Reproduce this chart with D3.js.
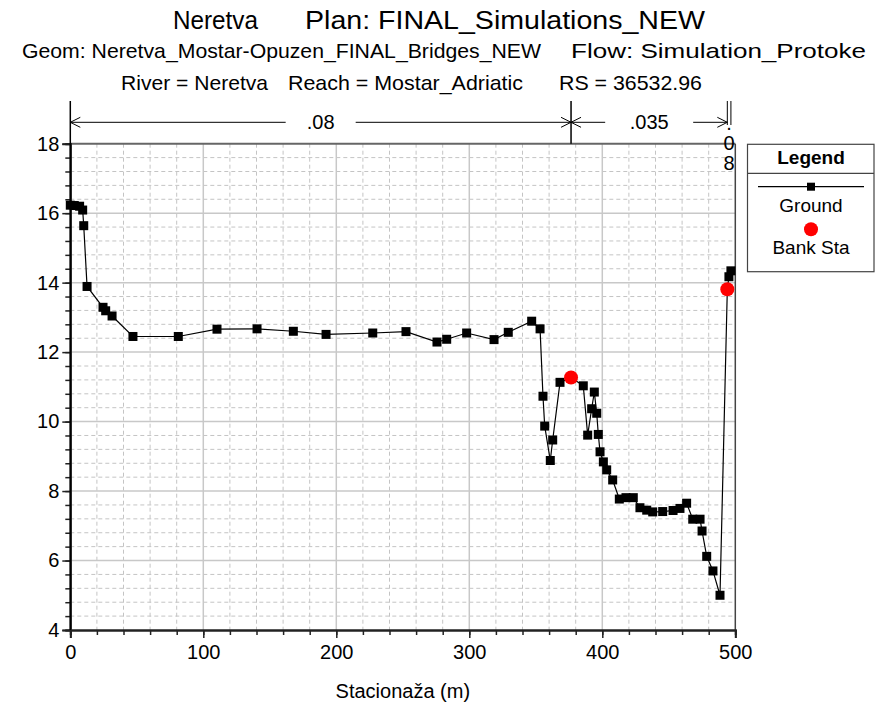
<!DOCTYPE html>
<html>
<head>
<meta charset="utf-8">
<script src="https://cdn.jsdelivr.net/npm/d3@7"></script>
<style>
body { margin: 0; background: #fff; }
text { font-family: "Liberation Sans", Arial, sans-serif; fill: #000; }
</style>
</head>
<body>
<div id="graph1"></div>
<script>
// ground profile (station m, elevation m)
var groundSta = [0, 3, 7, 9.3, 10.1, 12.6, 24.6, 26.6, 31.4, 47.1, 81.2, 110.3, 140.4, 167.7, 192.3, 227.4, 252.4, 275.7, 283, 298, 318.6, 329.3, 346.9, 353.2, 355.4, 356.7, 360.9, 362.7, 368.2, 376.5, 385.7, 389, 392, 394, 395.8, 397, 398.3, 400.8, 403.3, 407.8, 412.8, 417.8, 423.3, 428.3, 433.4, 437.9, 445.4, 453.2, 458.4, 463.4, 468, 473.5, 475, 478.5, 483.2, 488.5, 494, 495.2, 496.7];
var groundElev = [16.23, 16.22, 16.2, 16.09, 15.64, 13.89, 13.29, 13.19, 13.04, 12.45, 12.45, 12.66, 12.67, 12.6, 12.51, 12.55, 12.59, 12.29, 12.37, 12.55, 12.36, 12.57, 12.89, 12.67, 10.73, 9.87, 8.88, 9.47, 11.13, 11.27, 11.03, 9.61, 10.37, 10.85, 10.24, 9.63, 9.13, 8.84, 8.61, 8.32, 7.77, 7.81, 7.81, 7.52, 7.45, 7.4, 7.41, 7.44, 7.5, 7.65, 7.19, 7.19, 6.85, 6.12, 5.7, 5.0, 13.81, 14.17, 14.34];

// bank stations
var bankSta = [376.5, 494];
var bankElev = [11.27, 13.81];

// manning's n regions
var nStart = [0, 376.5, 494];
var nEnd = [376.5, 494, 496.7];
var nLabel = [".08", ".035", ".08"];

var xTicks = [0, 100, 200, 300, 400, 500];
var yTicks = [4, 6, 8, 10, 12, 14, 16, 18];

const width = 883;
const height = 709;
const plot = {left: 70.3, right: 735.3, top: 143.7, bottom: 630};

var svg = d3.select("#graph1")
	.append("svg")
	.attr("width", width)
	.attr("height", height);

var x = d3.scaleLinear().domain([0, 500]).range([plot.left, plot.right]);
var y = d3.scaleLinear().domain([4, 18]).range([plot.bottom, plot.top]);

// titles (narrow font in the original, so squeeze to the measured widths)
function titlePiece(txt, tx, ty, size, len) {
	svg.append("text")
		.attr("x", tx)
		.attr("y", ty)
		.attr("textLength", len)
		.attr("lengthAdjust", "spacingAndGlyphs")
		.style("font-size", size + "px")
		.text(txt);
}
titlePiece("Neretva", 173, 29, 25, 85);
titlePiece("Plan: FINAL_Simulations_NEW", 305, 29, 25, 400);
titlePiece("Geom: Neretva_Mostar-Opuzen_FINAL_Bridges_NEW", 22, 58, 21, 519);
titlePiece("Flow: Simulation_Protoke", 571, 58, 21, 295);
titlePiece("River = Neretva", 121, 90, 21, 147);
titlePiece("Reach = Mostar_Adriatic", 288, 90, 21, 235);
titlePiece("RS = 36532.96", 559, 90, 21, 143);

// grid
var grid = svg.append("g");
grid.selectAll(".minx")
	.data(d3.range(0, 501, 20).filter(d => d % 100 != 0))
	.enter().append("line")
	.attr("x1", d => x(d)).attr("x2", d => x(d))
	.attr("y1", plot.top).attr("y2", plot.bottom)
	.attr("stroke", "#c4c4c4").attr("stroke-dasharray", "4,3");
grid.selectAll(".miny")
	.data(d3.range(0, 36).map(i => 4 + i * 0.4).filter(d => Math.abs(d / 2 - Math.round(d / 2)) > 0.01))
	.enter().append("line")
	.attr("x1", plot.left).attr("x2", plot.right)
	.attr("y1", d => y(d)).attr("y2", d => y(d))
	.attr("stroke", "#c4c4c4").attr("stroke-dasharray", "4,3");
grid.selectAll(".majx")
	.data(xTicks.slice(1, -1))
	.enter().append("line")
	.attr("x1", d => x(d)).attr("x2", d => x(d))
	.attr("y1", plot.top).attr("y2", plot.bottom)
	.attr("stroke", "#c8c8c8").attr("stroke-width", 1.5);
grid.selectAll(".majy")
	.data(yTicks.slice(1, -1))
	.enter().append("line")
	.attr("x1", plot.left).attr("x2", plot.right)
	.attr("y1", d => y(d)).attr("y2", d => y(d))
	.attr("stroke", "#c8c8c8").attr("stroke-width", 1.5);

// frame top / right
svg.append("line").attr("x1", plot.left).attr("x2", plot.right)
	.attr("y1", plot.top).attr("y2", plot.top)
	.attr("stroke", "#666").attr("stroke-width", 2);
svg.append("line").attr("x1", plot.right).attr("x2", plot.right)
	.attr("y1", plot.top).attr("y2", plot.bottom)
	.attr("stroke", "#444").attr("stroke-width", 1.5);

// axes
var xMinor = d3.axisBottom(x).tickValues(d3.range(0, 501, 20)).tickSize(5).tickFormat("");
var xAxis = d3.axisBottom(x).tickValues(xTicks).tickSize(8).tickPadding(7);
var yMinor = d3.axisLeft(y).tickValues(d3.range(0, 36).map(i => 4 + i * 0.4)).tickSize(5).tickFormat("");
var yAxis = d3.axisLeft(y).tickValues(yTicks).tickSize(8).tickPadding(3);

svg.append("g").attr("transform", `translate(0, ${plot.bottom})`).call(xMinor);
var gx = svg.append("g").attr("transform", `translate(0, ${plot.bottom})`).call(xAxis);
svg.append("g").attr("transform", `translate(${plot.left}, 0)`).call(yMinor);
var gy = svg.append("g").attr("transform", `translate(${plot.left}, 0)`).call(yAxis);

svg.selectAll(".domain").attr("stroke", "#222").attr("stroke-width", 2);
svg.selectAll(".tick line").attr("stroke", "#222").attr("stroke-width", 1.5);
gx.selectAll("text").style("font-size", "20px").style("font-family", "Liberation Sans, Arial, sans-serif");
gy.selectAll("text").style("font-size", "20px").style("font-family", "Liberation Sans, Arial, sans-serif");

// left axis extends up through the n-value bar
svg.append("line").attr("x1", plot.left).attr("x2", plot.left)
	.attr("y1", 101).attr("y2", plot.bottom)
	.attr("stroke", "#000").attr("stroke-width", 1.5);

svg.append("text")
	.attr("x", (plot.left + plot.right) / 2)
	.attr("y", 698)
	.attr("text-anchor", "middle")
	.style("font-size", "20px")
	.text("Stacionaža (m)");

// manning's n bar
var nY = 122.3;
var nBar = svg.append("g").attr("stroke", "#000").attr("fill", "none");
function arrowHead(ax, dir) {
	nBar.append("path")
		.attr("d", `M${ax - dir * 10},${nY - 5} L${ax},${nY} L${ax - dir * 10},${nY + 5}`)
		.attr("stroke-width", 1);
}
nStart.forEach(function(s, i) {
	var x0 = x(s), x1 = x(nEnd[i]);
	if (x1 - x0 > 40) {
		var mid = (x0 + x1) / 2;
		var w = nLabel[i].length * 9 + 8;
		nBar.append("line").attr("x1", x0).attr("x2", mid - w).attr("y1", nY).attr("y2", nY);
		nBar.append("line").attr("x1", mid + w).attr("x2", x1).attr("y1", nY).attr("y2", nY);
		arrowHead(x0, -1);
		arrowHead(x1, 1);
		svg.append("text")
			.attr("x", mid)
			.attr("y", nY + 7)
			.attr("text-anchor", "middle")
			.style("font-size", "20px")
			.text(nLabel[i]);
	} else {
		// too narrow: label stacked one char per line
		nLabel[i].split("").forEach(function(c, k) {
			svg.append("text")
				.attr("x", (x0 + x1) / 2)
				.attr("y", 130 + k * 20)
				.attr("text-anchor", "middle")
				.style("font-size", "20px")
				.text(c);
		});
	}
});
// dividers between n regions
nBar.append("line").attr("x1", x(bankSta[0])).attr("x2", x(bankSta[0]))
	.attr("y1", 101).attr("y2", plot.top).attr("stroke-width", 1.5);
nBar.append("line").attr("x1", x(bankSta[1])).attr("x2", x(bankSta[1]))
	.attr("y1", 101).attr("y2", 125).attr("stroke-width", 1);
nBar.append("line").attr("x1", x(nEnd[2])).attr("x2", x(nEnd[2]))
	.attr("y1", 101).attr("y2", 125).attr("stroke-width", 1);

// ground line
var line = d3.line().x((d, i) => x(groundSta[i])).y(d => y(d));
svg.append("path")
	.datum(groundElev)
	.attr("d", line)
	.attr("fill", "none")
	.attr("stroke", "#000")
	.attr("stroke-width", 1.2);

svg.selectAll(".gpt")
	.data(groundElev)
	.enter().append("rect")
	.attr("x", (d, i) => x(groundSta[i]) - 4.5)
	.attr("y", d => y(d) - 4.5)
	.attr("width", 9)
	.attr("height", 9)
	.attr("fill", "#000");

svg.selectAll(".bank")
	.data(bankElev)
	.enter().append("circle")
	.attr("cx", (d, i) => x(bankSta[i]))
	.attr("cy", d => y(d))
	.attr("r", 7)
	.attr("fill", "#ff0000");

// legend
var lg = svg.append("g");
lg.append("rect").attr("x", 747.5).attr("y", 144.3).attr("width", 126.5).attr("height", 127.4)
	.attr("fill", "#fff").attr("stroke", "#444").attr("stroke-width", 1.2);
lg.append("line").attr("x1", 747.5).attr("x2", 874).attr("y1", 173.3).attr("y2", 173.3)
	.attr("stroke", "#444").attr("stroke-width", 1.2);
lg.append("text").attr("x", 811).attr("y", 164).attr("text-anchor", "middle")
	.style("font-size", "19px").style("font-weight", "bold").text("Legend");
lg.append("line").attr("x1", 758).attr("x2", 864).attr("y1", 186.7).attr("y2", 186.7)
	.attr("stroke", "#000").attr("stroke-width", 1.2);
lg.append("rect").attr("x", 807).attr("y", 182.7).attr("width", 8).attr("height", 8).attr("fill", "#000");
lg.append("text").attr("x", 811).attr("y", 212).attr("text-anchor", "middle")
	.style("font-size", "19px").text("Ground");
lg.append("circle").attr("cx", 811).attr("cy", 229.3).attr("r", 7).attr("fill", "#ff0000");
lg.append("text").attr("x", 811).attr("y", 254).attr("text-anchor", "middle")
	.style("font-size", "19px").text("Bank Sta");
</script>
</body>
</html>
